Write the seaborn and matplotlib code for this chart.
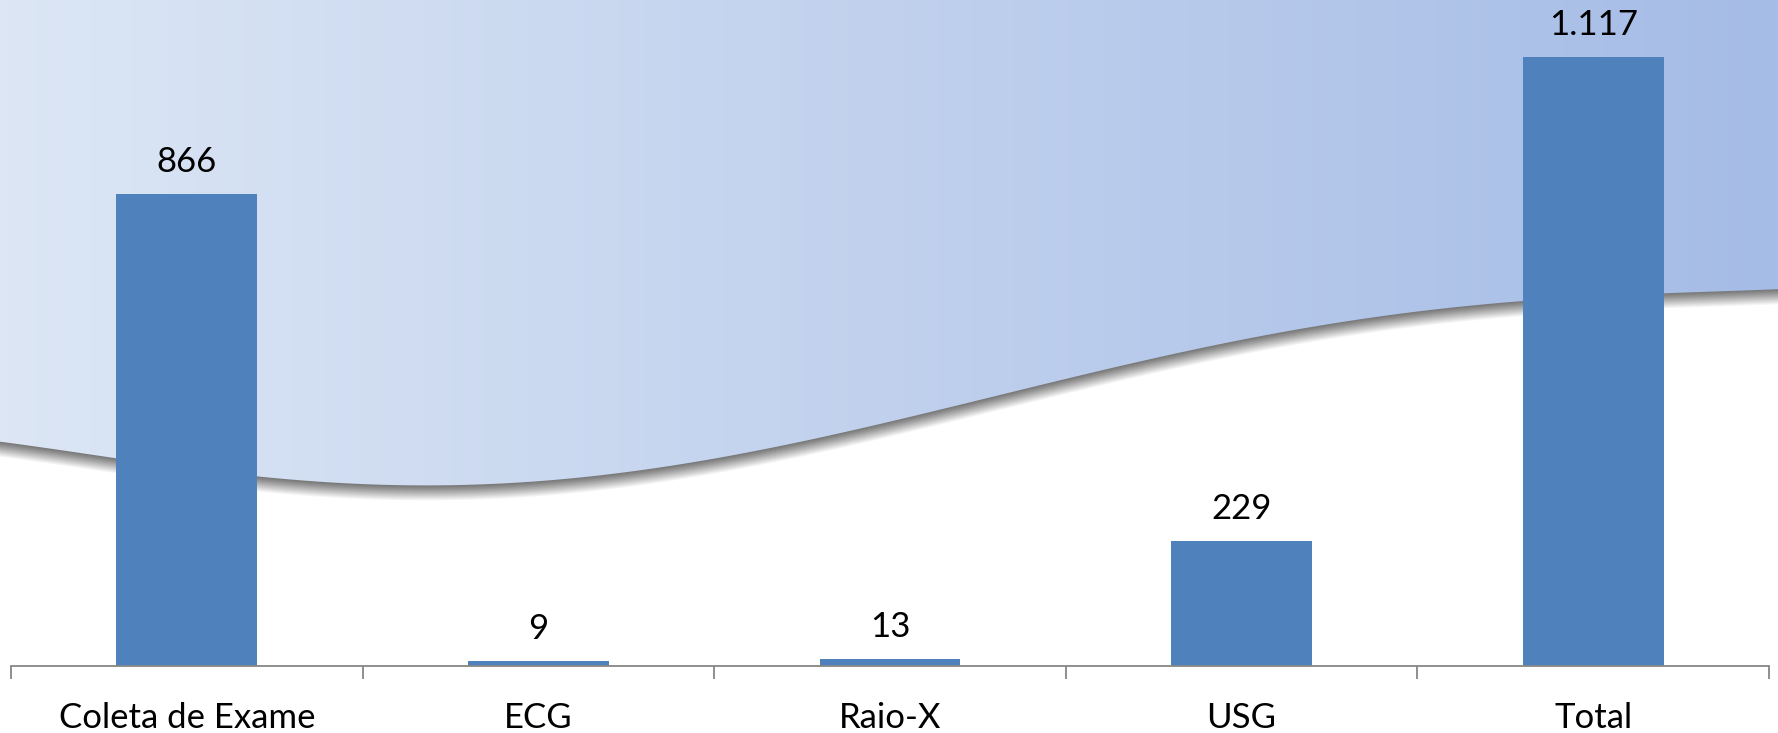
import matplotlib
matplotlib.use('Agg')
import matplotlib.pyplot as plt
import seaborn as sns
import numpy as np
import pandas as pd

# dados do gráfico
categorias = ['Coleta de Exame', 'ECG', 'Raio-X', 'USG', 'Total']
valores = [866, 9, 13, 229, 1117]

W, H = 1778, 733
COR_BARRA = '#4F81BD'

sns.set_theme(style='white')
plt.rcParams['font.family'] = ['Lato', 'DejaVu Sans']

fig = plt.figure(figsize=(W / 100, H / 100), dpi=100)
fig.patch.set_facecolor('white')

# fundo decorativo: onda com gradiente e sombra
bg = fig.add_axes([0, 0, 1, 1])
bg.set_xlim(0, W)
bg.set_ylim(H, 0)
bg.axis('off')

onda_x = np.array([0, 119, 258, 421, 600, 726, 976, 1201, 1351, 1520, 1778])
onda_y = np.array([441, 460, 477, 483, 475, 459, 400, 348, 320, 302, 289])
xs = np.linspace(0, W, 600)
coef = np.polyfit(onda_x / W, onda_y, 5)
ys = np.polyval(coef, xs / W)

# sombra
n_sombra = 16
for k in range(n_sombra, 0, -1):
    g = 0.48 + 0.52 * ((k - 1) / (n_sombra - 1)) ** 1.1
    bg.fill_between(xs, 0, ys + k, color=(g, g, g), lw=0, zorder=1)

# gradiente
grad = np.linspace(0, 1, 256)[None, :]
c0 = np.array([220, 230, 245]) / 255
c1 = np.array([165, 188, 230]) / 255
img = c0[None, None, :] * (1 - grad[..., None]) + c1[None, None, :] * grad[..., None]
im = bg.imshow(img, extent=[0, W, H, 0], aspect='auto', zorder=2)
poly = bg.fill_between(xs, 0, ys, color='none', lw=0)
im.set_clip_path(poly.get_paths()[0], transform=bg.transData)

# gráfico de barras
base_y = 666
topo_total = 57
ymax = max(valores) * base_y / (base_y - topo_total)
ax = fig.add_axes([11 / W, 1 - base_y / H, (1769 - 11) / W, base_y / H])
ax.patch.set_alpha(0)

df = pd.DataFrame({'categoria': categorias, 'valor': valores})
sns.barplot(data=df, x='categoria', y='valor', color=COR_BARRA, saturation=1,
            width=0.4, linewidth=0, ax=ax)
ax.set_xlim(-0.5, len(categorias) - 0.5)
ax.set_ylim(0, ymax)

for i, v in enumerate(valores):
    rotulo = f'{v:,}'.replace(',', '.')
    ax.annotate(rotulo, (i, v), xytext=(0, 23), textcoords='offset points',
                ha='center', va='center', fontsize=25, color='black')

for lado in ['left', 'right', 'top']:
    ax.spines[lado].set_visible(False)
ax.spines['bottom'].set_color('#868686')
ax.spines['bottom'].set_linewidth(1.3)

ax.set_yticks([])
ax.set_xlabel('')
ax.set_ylabel('')
ax.set_xticks(range(len(categorias)))
ax.set_xticklabels(categorias, fontsize=25, color='black')
ax.tick_params(axis='x', which='major', length=0, pad=26)
ax.set_xticks(np.arange(-0.5, len(categorias)), minor=True)
ax.tick_params(axis='x', which='minor', length=9, width=1.3, color='#868686',
               direction='out', bottom=True)

fig.savefig('out.png', dpi=100, facecolor='white')
